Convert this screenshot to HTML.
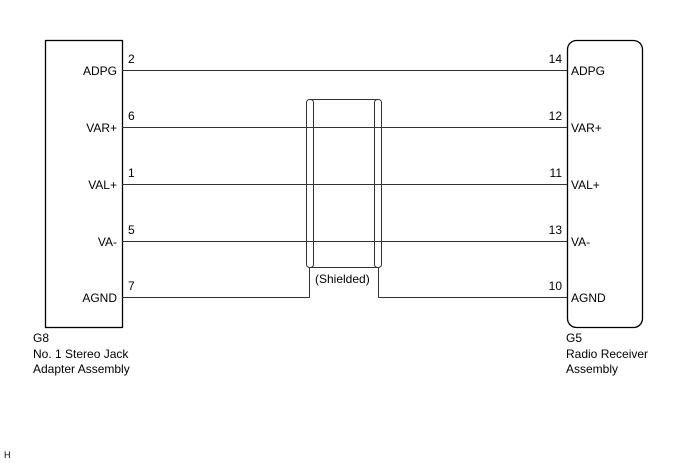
<!DOCTYPE html>
<html><head><style>html,body{margin:0;padding:0;background:#fff}svg{display:block}text{font-family:"Liberation Sans",sans-serif;font-size:12px;fill:#000}</style></head>
<body>
<svg width="688" height="463" viewBox="0 0 688 463" xmlns="http://www.w3.org/2000/svg">
<g fill="none" stroke="#000" stroke-width="1.3">
<rect x="45.5" y="40.5" width="77" height="287"/>
<rect x="567.5" y="40.5" width="75" height="287" rx="9"/>
</g>
<g fill="none" stroke="#333" stroke-width="1">
<line x1="122" y1="70.5" x2="567" y2="70.5"/>
<line x1="122" y1="127.5" x2="567" y2="127.5"/>
<line x1="122" y1="184.5" x2="567" y2="184.5"/>
<line x1="122" y1="241.5" x2="567" y2="241.5"/>
<polyline points="122,297.5 309.5,297.5 309.5,267"/>
<polyline points="567,297.5 378.5,297.5 378.5,267"/>
<rect x="306.5" y="99.5" width="7" height="168" rx="3"/>
<rect x="374.5" y="99.5" width="7" height="168" rx="3"/>
<line x1="310" y1="99.5" x2="378" y2="99.5"/>
<line x1="310" y1="267.5" x2="378" y2="267.5"/>
</g>
<g text-anchor="end">
<text x="117" y="75">ADPG</text>
<text x="117" y="132">VAR+</text>
<text x="117" y="189">VAL+</text>
<text x="117" y="246">VA-</text>
<text x="117" y="302">AGND</text>
<text x="562" y="63">14</text>
<text x="562" y="120">12</text>
<text x="562" y="177">11</text>
<text x="562" y="234">13</text>
<text x="562" y="290">10</text>
</g>
<text x="128" y="63">2</text>
<text x="128" y="120">6</text>
<text x="128" y="177">1</text>
<text x="128" y="234">5</text>
<text x="128" y="290">7</text>
<text x="571" y="75">ADPG</text>
<text x="571" y="132">VAR+</text>
<text x="571" y="189">VAL+</text>
<text x="571" y="246">VA-</text>
<text x="571" y="302">AGND</text>
<text x="315" y="283">(Shielded)</text>
<text x="33" y="342">G8</text>
<text x="33" y="358">No. 1 Stereo Jack</text>
<text x="33" y="373">Adapter Assembly</text>
<text x="566" y="342">G5</text>
<text x="566" y="358">Radio Receiver</text>
<text x="566" y="373">Assembly</text>
<text x="4" y="458" style="font-size:9px">H</text>
</svg>
</body></html>
